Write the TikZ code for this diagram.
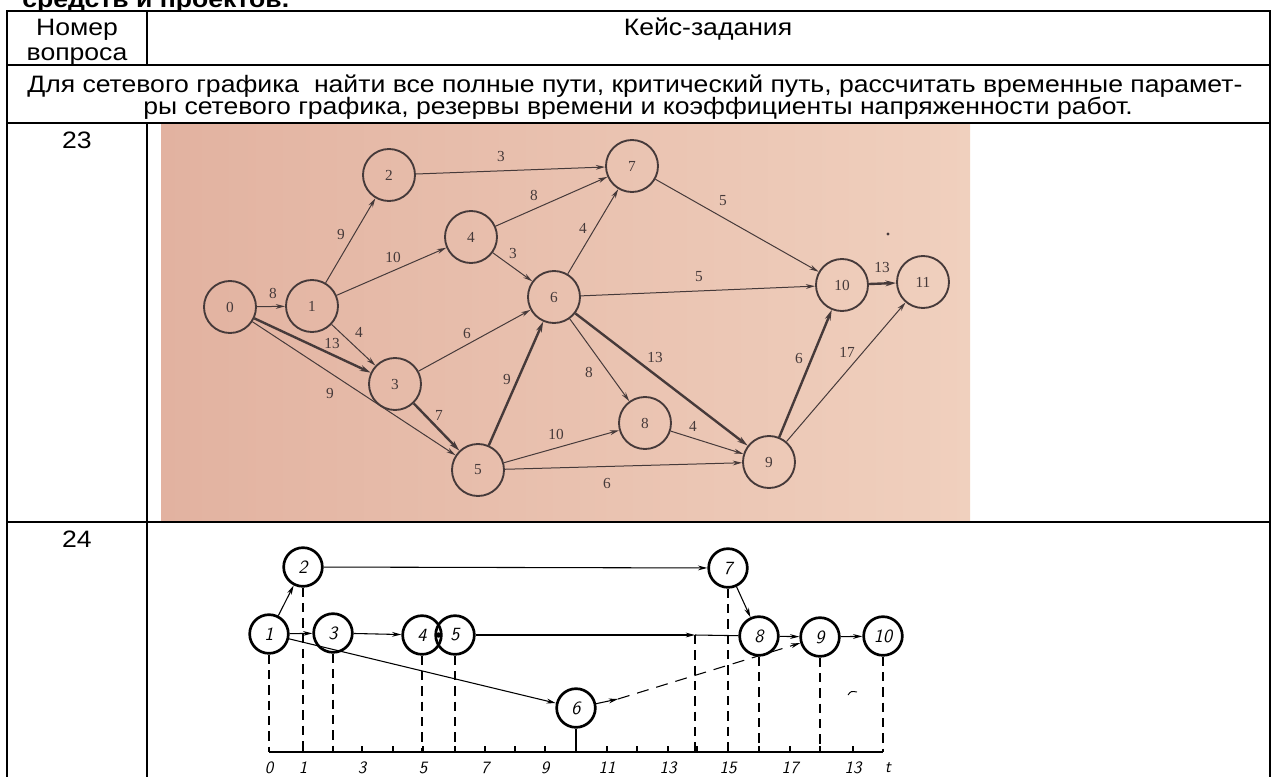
\documentclass[tikz,border=0pt]{standalone}
\usepackage{fontspec}
\setmainfont{Liberation Sans}
\newfontfamily\scanfont{Liberation Serif}
\usetikzlibrary{arrows.meta}

\definecolor{paperL}{RGB}{226,178,160}
\definecolor{paperR}{RGB}{240,208,190}
\definecolor{ink}{RGB}{70,58,58}

% table text is set slightly wide
\newcommand{\wide}[1]{\scalebox{1.12}[1]{#1}}

\begin{document}
\begin{tikzpicture}[x=0.75pt,y=-0.75pt,
  rule/.style={line width=1.6pt,line cap=rect},
  cell/.style={inner sep=0pt,anchor=base,font=\fontsize{17.8}{20}\selectfont},
  % network on the scanned page
  ev/.style={circle,draw=ink,line width=1.4pt,minimum size=39pt,inner sep=0pt,
    text=ink,font=\scanfont\fontsize{11.5}{12}\selectfont},
  wk/.style={draw=ink,line width=0.75pt,-{Stealth[length=7pt,width=3.6pt]}},
  crit/.style={draw=ink,line width=1.8pt,-{Stealth[length=8pt,width=4.4pt]}},
  lab/.style={inner sep=0pt,text=ink,font=\scanfont\fontsize{11.5}{12}\selectfont},
  % time-scaled network
  tv/.style={circle,draw=black,line width=2pt,minimum size=29pt,inner sep=0pt,
    font=\sffamily\itshape\fontsize{14}{14}\selectfont},
  ta/.style={draw=black,line width=0.8pt,-{Stealth[length=7pt,width=3.6pt]}},
  proj/.style={draw=black,line width=0.9pt,dash pattern=on 7pt off 4.5pt},
  tick/.style={inner sep=0pt,font=\sffamily\itshape\fontsize{13}{13}\selectfont}]

\useasboundingbox (0,0) rectangle (1275,776);
\fill[white] (0,0) rectangle (1275,776);

% heading cut at the page top
\node[anchor=base west,inner sep=0pt,font=\bfseries\fontsize{17.8}{20}\selectfont] (head) at (22,7) {\wide{средств и проектов.}};

% scanned page with the first network
\shade[left color=paperL,right color=paperR] (161,123) rectangle (970,520);

% ---------- table ----------
\draw[rule] (7,11) -- (1270,11);
\draw[rule] (7,65) -- (1270,65);
\draw[rule] (7,123) -- (1270,123);
\draw[rule] (7,522) -- (1270,522);
\draw[rule] (7,11) -- (7,776);
\draw[rule] (1270,11) -- (1270,776);
\draw[rule] (147,11) -- (147,65);
\draw[rule] (147,123) -- (147,776);

\node[cell] (h1) at (77,35) {\wide{Номер}};
\node[cell] (h2) at (77,60) {\wide{вопроса}};
\node[cell] (h3) at (708,35) {\wide{Кейс-задания}};
\node[cell,anchor=base west] (t1) at (27,92) {\wide{Для сетевого графика\ \ найти все полные пути, критический путь, рассчитать временные парамет-}};
\node[cell,anchor=base west] (t2) at (143,114) {\wide{ры сетевого графика, резервы времени и коэффициенты напряженности работ.}};
\node[cell] (q23) at (77,148) {\wide{23}};
\node[cell] (q24) at (77,547) {\wide{24}};

% ---------- network 23 ----------
\node[ev] (n0) at (230,307) {0};
\node[ev] (n1) at (312,306) {1};
\node[ev] (n2) at (389,175) {2};
\node[ev] (n3) at (395,384) {3};
\node[ev] (n4) at (471,237) {4};
\node[ev] (n5) at (478,470) {5};
\node[ev] (n6) at (554,297) {6};
\node[ev] (n7) at (632,166) {7};
\node[ev] (n8) at (645,423) {8};
\node[ev] (n9) at (769,462) {9};
\node[ev] (n10) at (842,285) {10};
\node[ev] (n11) at (923,282) {11};

\draw[wk] (n0) -- (n1);
\draw[crit] (n0) -- (n3);
\draw[wk] (n0) -- (n5);
\draw[wk] (n1) -- (n2);
\draw[wk] (n1) -- (n4);
\draw[wk] (n1) -- (n3);
\draw[wk] (n2) -- (n7);
\draw[wk] (n4) -- (n7);
\draw[wk] (n4) -- (n6);
\draw[wk] (n3) -- (n6);
\draw[crit] (n3) -- (n5);
\draw[crit] (n5) -- (n6);
\draw[wk] (n6) -- (n7);
\draw[wk] (n7) -- (n10);
\draw[wk] (n6) -- (n10);
\draw[wk] (n6) -- (n8);
\draw[crit] (n6) -- (n9);
\draw[wk] (n5) -- (n8);
\draw[wk] (n5) -- (n9);
\draw[wk] (n8) -- (n9);
\draw[crit] (n9) -- (n10);
\draw[wk] (n9) -- (n11);
\draw[crit] (n10) -- (n11);

\node[lab] (l01) at (273,293) {8};
\node[lab] (l03) at (332,343) {13};
\node[lab] (l05) at (330,393) {9};
\node[lab] (l12) at (341,234) {9};
\node[lab] (l14) at (393,257) {10};
\node[lab] (l13) at (359,332) {4};
\node[lab] (l27) at (501,156) {3};
\node[lab] (l47) at (534,195) {8};
\node[lab] (l46) at (513,253) {3};
\node[lab] (l36) at (467,333) {6};
\node[lab] (l35) at (439,415) {7};
\node[lab] (l56) at (507,379) {9};
\node[lab] (l67) at (583,228) {4};
\node[lab] (l710) at (723,201) {5};
\node[lab] (l610) at (699,277) {5};
\node[lab] (l68) at (589,372) {8};
\node[lab] (l69) at (655,357) {13};
\node[lab] (l58) at (556,434) {10};
\node[lab] (l59) at (607,483) {6};
\node[lab] (l89) at (693,426) {4};
\node[lab] (l910) at (799,358) {6};
\node[lab] (l911) at (847,352) {17};
\node[lab] (l1011) at (882,267) {13};
\fill[ink] (888,234) circle (1.2pt);

% ---------- network 24, time scale ----------
\coordinate (ax) at (0,752);
\coordinate (axL) at (269,752);
\coordinate (axR) at (883,752);
\draw[line width=1pt] (axL) -- (axR);
\foreach \x in {303,333,362,393,423,455,485,515,545,576,607,637,668,697,728,759,790,820,853}
  \draw[line width=0.9pt] (\x,752) -- (\x,746);

\node[tv] (m1) at (269,634) {1};
\node[tv] (m2) at (303,567) {2};
\node[tv] (m3) at (333,633) {3};
\node[tv] (m4) at (422,635) {4};
\node[tv] (m5) at (455,635) {5};
\node[tv] (m6) at (576,708) {6};
\node[tv] (m7) at (728,568) {7};
\node[tv] (m8) at (759,636) {8};
\node[tv] (m9) at (820,637) {9};
\node[tv] (m10) at (883,636) {10};
\fill (438.5,635) circle (2pt);

\coordinate (e5) at (695,635);
\coordinate (d6) at (618,699);

\draw[ta] (m1) -- (m2);
\draw[ta] (m1) -- (m3);
\draw[ta] (m2) -- (m7);
\draw[ta] (m3) -- (m4);
\draw[ta] (m5) -- (e5);
\draw[line width=0.8pt] (e5) -- (m8);
\draw[ta] (m1) -- (m6);
\draw[ta] (m6) -- (d6);
\draw[ta,dash pattern=on 9pt off 6pt] (d6) -- (m9);
\draw[ta] (m7) -- (m8);
\draw[ta] (m8) -- (m9);
\draw[ta] (m9) -- (m10);

\foreach \v in {m1,m2,m3,m4,m5,m7,m8,m9,m10}
  \draw[proj] (\v.south) -- (\v.south |- ax);
\draw[proj] (e5) -- (e5 |- ax);
\draw[line width=0.9pt] (m6.south) -- (m6.south |- ax);
\draw[line width=0.7pt] (848,695) .. controls (851,691) .. (857,692);

\foreach \x/\t in {269/0,303/1,362/3,423/5,485/7,545/9,607/11,668/13,728/15,790/17,853/13}
  \node[tick] at (\x,768) {\t};
\node[tick] (tt) at (888,768) {t};
\end{tikzpicture}
\end{document}
